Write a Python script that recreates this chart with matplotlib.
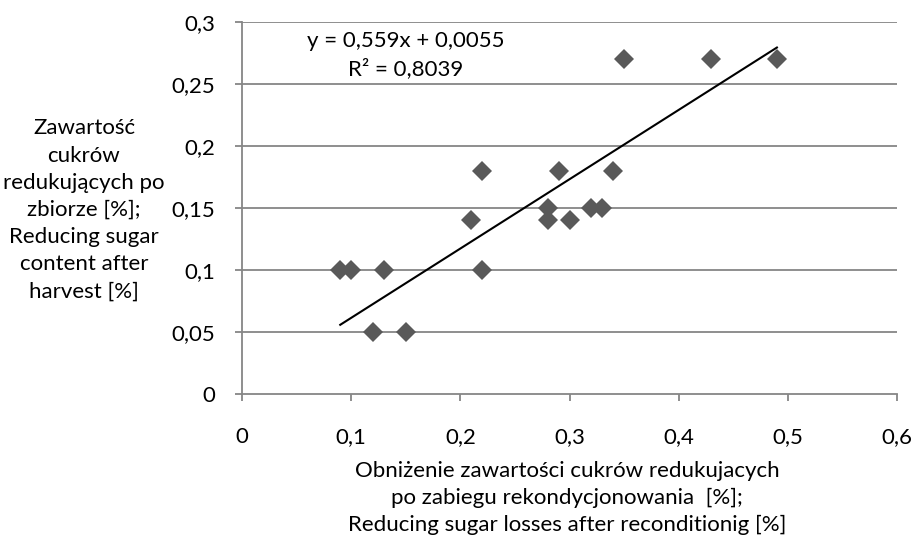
import numpy as np
import matplotlib
matplotlib.use("Agg")
import matplotlib.pyplot as plt

plt.rcParams['font.family'] = ['Lato', 'DejaVu Sans']

# reducing sugar losses after reconditioning [%]
losses = [0.09, 0.10, 0.13, 0.12, 0.15, 0.21, 0.22, 0.22, 0.28, 0.28,
          0.29, 0.30, 0.32, 0.33, 0.34, 0.35, 0.43, 0.49]
# reducing sugar content after harvest [%]
content = [0.10, 0.10, 0.10, 0.05, 0.05, 0.14, 0.18, 0.10, 0.15, 0.14,
           0.18, 0.14, 0.15, 0.15, 0.18, 0.27, 0.27, 0.27]

# trendline as printed on the chart
slope = 0.559
intercept = 0.0055
r2 = 0.8039

xticks = [0, 0.1, 0.2, 0.3, 0.4, 0.5, 0.6]
yticks = [0, 0.05, 0.1, 0.15, 0.2, 0.25, 0.3]

def comma(v):
    return ('%g' % v).replace('.', ',')

W, H = 913, 537
fig = plt.figure(figsize=(W / 100, H / 100), dpi=100)
ax = fig.add_axes([242 / W, 1 - 394 / H, 655 / W, 372 / H])

grey = '#868686'
for y in yticks[1:]:
    ax.axhline(y, color=grey, lw=1.3, zorder=1)

ax.plot(losses, content, 'D', color='#595959', markersize=10, markeredgewidth=0, zorder=3)

xs = np.array([min(losses), max(losses)])
ax.plot(xs, slope * xs + intercept, color='black', lw=1.5, zorder=4)

ax.set_xlim(0, 0.6)
ax.set_ylim(0, 0.3)
ax.set_xticks(xticks)
ax.set_yticks(yticks)
ax.set_xticklabels([comma(v) for v in xticks], fontsize=16)
ax.set_yticklabels([comma(v) for v in yticks], fontsize=16)
ax.tick_params(axis='both', color=grey, width=1.3, length=5)
ax.tick_params(axis='x', pad=19)
ax.tick_params(axis='y', pad=14)

for side in ['top', 'right']:
    ax.spines[side].set_visible(False)
for side in ['left', 'bottom']:
    ax.spines[side].set_color(grey)
    ax.spines[side].set_linewidth(1.3)

eq = 'y = %s x + %s\nR² = %s' % ('0,559', '0,0055', '0,8039')
eq = eq.replace(' x', 'x')
fig.text(406 / W, 1 - 55 / H, eq, ha='center', va='center', fontsize=16, linespacing=1.45)

fig.text(84 / W, 1 - 210 / H,
         'Zawartość\ncukrów\nredukujących po\nzbiorze [%];\nReducing sugar\ncontent after\nharvest [%]',
         ha='center', va='center', fontsize=16, linespacing=1.45)

fig.text(567 / W, 1 - 498 / H,
         'Obniżenie zawartości cukrów redukujacych\npo zabiegu rekondycjonowania  [%];\nReducing sugar losses after reconditionig [%]',
         ha='center', va='center', fontsize=16, linespacing=1.45)

fig.savefig('out.png', dpi=100)
